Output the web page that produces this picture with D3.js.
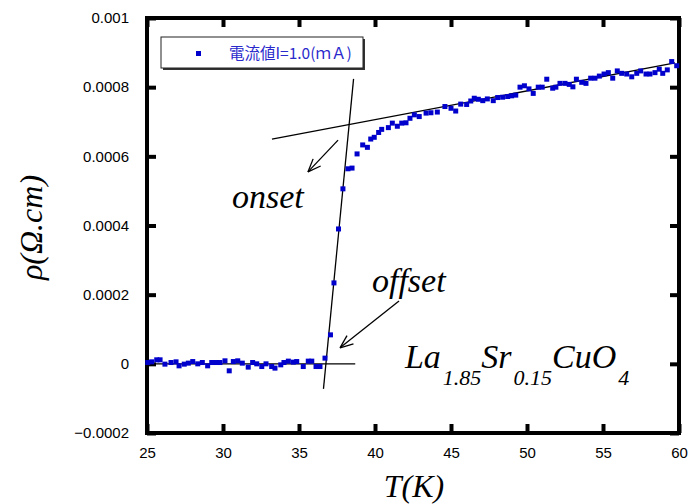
<!DOCTYPE html>
<html>
<head>
<meta charset="utf-8">
<script src="https://cdn.jsdelivr.net/npm/d3@7"></script>
<style>
  html, body { margin: 0; padding: 0; background: #fff; }
  svg { display: block; }
</style>
</head>
<body>
<svg id="chart" width="688" height="504"></svg>
<script>
// ---- data ----
const temperatureK = [
  25.05, 25.31, 25.64, 25.86, 26.18, 26.58, 26.91, 27.11, 27.45, 27.72,
  28.01, 28.34, 28.64, 28.99, 29.26, 29.54, 29.80, 30.13, 30.41, 30.68,
  30.97, 31.27, 31.66, 31.95, 32.22, 32.55, 32.83, 33.20, 33.42, 33.80,
  34.01, 34.30, 34.63, 34.85, 35.28, 35.61, 35.84, 36.12, 36.38, 36.71,
  37.07, 37.30, 37.60, 37.89, 38.22, 38.49, 38.82, 39.19, 39.50, 39.72,
  39.95, 40.24, 40.44, 40.88, 41.14, 41.47, 41.76, 42.04, 42.30, 42.59,
  42.91, 43.36, 43.68, 44.10, 44.60, 45.00, 45.31, 45.64, 46.03, 46.30,
  46.53, 46.80, 47.09, 47.39, 47.78, 48.07, 48.40, 48.73, 48.99, 49.26,
  49.54, 49.83, 50.13, 50.41, 50.74, 51.00, 51.30, 51.69, 51.90, 52.17,
  52.50, 52.78, 53.02, 53.25, 53.60, 53.88, 54.19, 54.47, 54.76, 55.07,
  55.35, 55.64, 55.94, 56.23, 56.56, 56.89, 57.22, 57.48, 57.83, 58.09,
  58.42, 58.70, 58.93, 59.23, 59.52, 59.85
];
const resistivity = [
  0.0000038, 0.0000058, 0.0000116, 0.0000116, -0.0000009, 0.0000038, 0.0000058, -0.0000058, -0.0000009, 0.0000020,
  0.0000066, 0.0000000, 0.0000038, -0.0000058, 0.0000038, 0.0000038, 0.0000038, 0.0000087, -0.0000202, 0.0000066,
  0.0000087, 0.0000020, -0.0000095, 0.0000038, 0.0000000, -0.0000078, 0.0000000, -0.0000078, -0.0000124, -0.0000029,
  0.0000038, 0.0000078, 0.0000049, 0.0000066, -0.0000078, 0.0000078, 0.0000078, -0.0000078, -0.0000078, 0.0000165,
  0.0000838, 0.000234, 0.000390, 0.000506, 0.000564, 0.000566, 0.000607, 0.000633, 0.000626, 0.000650,
  0.000655, 0.000669, 0.000678, 0.000683, 0.000696, 0.000687, 0.000696, 0.000697, 0.000710, 0.000720,
  0.000715, 0.000725, 0.000726, 0.000728, 0.000744, 0.000739, 0.000731, 0.000751, 0.000750, 0.000760,
  0.000768, 0.000765, 0.000761, 0.000766, 0.000761, 0.000770, 0.000771, 0.000773, 0.000775, 0.000777,
  0.000800, 0.000804, 0.000795, 0.000782, 0.000800, 0.000800, 0.000823, 0.000797, 0.000800, 0.000811,
  0.000811, 0.000808, 0.000801, 0.000823, 0.000814, 0.000811, 0.000826, 0.000826, 0.000832, 0.000838,
  0.000842, 0.000826, 0.000847, 0.000840, 0.000838, 0.000830, 0.000840, 0.000847, 0.000838, 0.000838,
  0.000842, 0.000852, 0.000840, 0.000850, 0.000874, 0.000862
];
const xTickValues = [25, 30, 35, 40, 45, 50, 55, 60];
const xTickLabels = ["25", "30", "35", "40", "45", "50", "55", "60"];
const yTickValues = [-0.0002, 0, 0.0002, 0.0004, 0.0006, 0.0008, 0.001];
const yTickLabels = ["\u22120.0002", "0", "0.0002", "0.0004", "0.0006", "0.0008", "0.001"];
const legendLabel = "電流値I=1.0(ｍＡ)";
const xAxisTitle = "T(K)";
const yAxisTitle = "ρ(Ω.cm)";
// fitted guide lines [T, rho] endpoints
const baselineFit = [[25, 0], [38.7, 0]];
const transitionFit = [[36.61, -0.0000723], [38.59, 0.000824]];
const normalStateFit = [[33.22, 0.00065], [59.74, 0.00087]];
// annotation arrows: [from, to(head)]
const onsetArrow = [[37.57, 0.000647], [35.59, 0.000555]];
const offsetArrow = [[41.58, 0.000182], [37.70, 0.0000462]];

(function () {
// ---- layout ----
const svg = d3.select("#chart");
const mLeft = 147, mRight = 679, mTop = 18, mBottom = 433;
const x = d3.scaleLinear().domain([25, 60]).range([mLeft, mRight]);
const y = d3.scaleLinear().domain([-0.0002, 0.001]).range([mBottom, mTop]);
const blue = "#0000cc";
const serifFamily = "Liberation Serif";
const sansFamily = "Liberation Sans";

// ticks (inward on all four sides)
const tickLen = 9;
const gB = svg.append("g").attr("transform", `translate(0,${mBottom})`)
  .call(d3.axisBottom(x).tickValues(xTickValues).tickSize(-tickLen).tickPadding(14)
    .tickFormat((d, i) => xTickLabels[i]));
const gT = svg.append("g").attr("transform", `translate(0,${mTop})`)
  .call(d3.axisTop(x).tickValues(xTickValues).tickSize(-tickLen).tickFormat(""));
const gL = svg.append("g").attr("transform", `translate(${mLeft},0)`)
  .call(d3.axisLeft(y).tickValues(yTickValues).tickSize(-tickLen).tickPadding(18)
    .tickFormat((d, i) => yTickLabels[i]));
const gR = svg.append("g").attr("transform", `translate(${mRight},0)`)
  .call(d3.axisRight(y).tickValues(yTickValues).tickSize(-tickLen).tickFormat(""));
[gB, gT, gL, gR].forEach(g => {
  g.attr("font-family", sansFamily).attr("font-size", 15);
  g.select(".domain").remove();
  g.selectAll(".tick line").attr("stroke", "#000").attr("stroke-width", 4);
  g.selectAll(".tick text").attr("fill", "#000");
});

// frame
svg.append("rect").attr("x", mLeft).attr("y", mTop)
  .attr("width", mRight - mLeft).attr("height", mBottom - mTop)
  .attr("fill", "none").attr("stroke", "#000").attr("stroke-width", 4);

// fit lines
const line = d3.line().x(d => x(d[0])).y(d => y(d[1]));
[baselineFit, transitionFit, normalStateFit].forEach(seg => {
  svg.append("path").attr("d", line(seg)).attr("fill", "none")
    .attr("stroke", "#000").attr("stroke-width", 1.3);
});

// data points
svg.append("g").selectAll("rect").data(temperatureK.map((t, i) => [t, resistivity[i]]))
  .join("rect")
  .attr("x", d => x(d[0]) - 2.5).attr("y", d => y(d[1]) - 2.5)
  .attr("width", 5).attr("height", 5).attr("fill", blue);

// arrows (open V heads)
function arrow(seg) {
  const [p0, p1] = seg;
  const x0 = x(p0[0]), y0 = y(p0[1]), x1 = x(p1[0]), y1 = y(p1[1]);
  svg.append("line").attr("x1", x0).attr("y1", y0).attr("x2", x1).attr("y2", y1)
    .attr("stroke", "#000").attr("stroke-width", 1.3);
  const ang = Math.atan2(y0 - y1, x0 - x1);
  const L = 14, spread = 0.38;
  [ang - spread, ang + spread].forEach(a => {
    svg.append("line").attr("x1", x1).attr("y1", y1)
      .attr("x2", x1 + L * Math.cos(a)).attr("y2", y1 + L * Math.sin(a))
      .attr("stroke", "#000").attr("stroke-width", 1.3);
  });
}
arrow(onsetArrow);
arrow(offsetArrow);

function serifText(sel, size) {
  return sel.attr("font-family", serifFamily).attr("font-style", "italic").attr("font-size", size);
}

// annotation texts
serifText(svg.append("text").attr("x", x(30.59)).attr("y", y(0.000451)), 34).text("onset");
serifText(svg.append("text").attr("x", x(39.8)).attr("y", y(0.000208)), 34).text("offset");

const formula = serifText(svg.append("text").attr("x", x(41.97)).attr("y", y(-0.0000116)), 34);
const parts = [["La", false], ["1.85", true], ["Sr", false], ["0.15", true], ["CuO", false], ["4", true]];
let prevSub = false;
parts.forEach(([t, sub]) => {
  const ts = formula.append("tspan").text(t);
  if (sub) { ts.attr("font-size", 22).attr("dy", prevSub ? 0 : 17).attr("dx", 2); }
  else if (prevSub) { ts.attr("dy", -17); }
  prevSub = sub;
});

// axis titles
serifText(svg.append("text").attr("x", 414).attr("y", 497)
  .attr("text-anchor", "middle"), 32).text(xAxisTitle);
serifText(svg.append("text").attr("transform", `translate(42,${(mTop + mBottom) / 2 + 2}) rotate(-90)`)
  .attr("text-anchor", "middle"), 32).text(yAxisTitle);

// legend
const lg = svg.append("g");
lg.append("rect").attr("x", 163).attr("y", 39).attr("width", 202).attr("height", 31).attr("fill", "#333");
lg.append("rect").attr("x", 161).attr("y", 37).attr("width", 202).attr("height", 31)
  .attr("fill", "#fff").attr("stroke", "#222").attr("stroke-width", 1);
lg.append("rect").attr("x", 196).attr("y", 51).attr("width", 5).attr("height", 5).attr("fill", blue);
lg.append("text").attr("x", 229).attr("y", 59)
  .attr("font-family", "Noto Sans CJK JP").attr("font-size", 15.5)
  .attr("fill", "#2a2acc").text(legendLabel);
})();
</script>
</body>
</html>
